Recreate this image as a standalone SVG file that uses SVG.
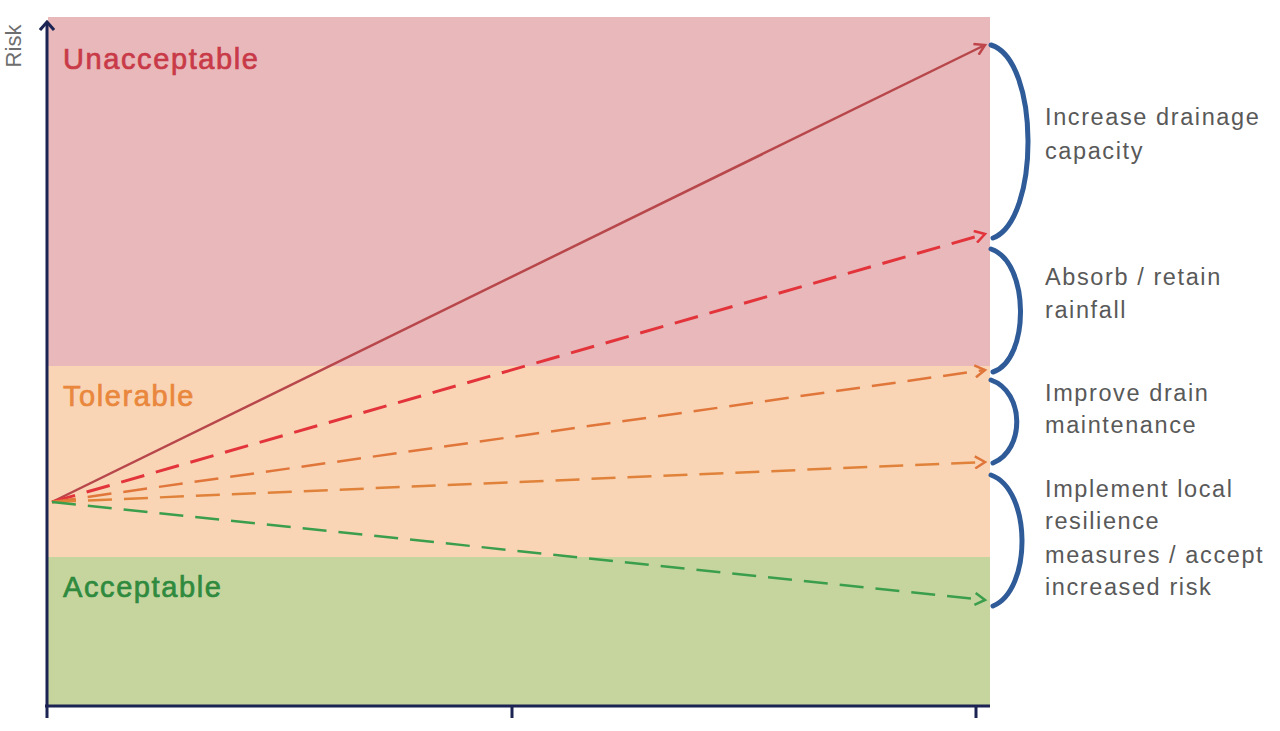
<svg xmlns="http://www.w3.org/2000/svg" width="1280" height="731" viewBox="0 0 1280 731">
<defs>
<style>
.zone{font-family:"Liberation Sans",Arial,sans-serif;font-size:29px;letter-spacing:1.6px;stroke-width:0.7}
.note{font-family:"Liberation Sans",Arial,sans-serif;font-size:23.5px;letter-spacing:1.6px;fill:#595959}
.brace{fill:none;stroke:#2f5b98;stroke-width:5;stroke-linecap:round}
.axis{stroke:#1c2453;stroke-width:3;fill:none}
</style>
<marker id="ahRed" markerWidth="14" markerHeight="14" refX="11" refY="7" orient="auto" markerUnits="userSpaceOnUse"><path d="M1,1 L11,7 L1,13" fill="none" stroke="#e2343a" stroke-width="2.5"/></marker>
<marker id="ahDark" markerWidth="14" markerHeight="14" refX="11" refY="7" orient="auto" markerUnits="userSpaceOnUse"><path d="M1,1 L11,7 L1,13" fill="none" stroke="#c0454a" stroke-width="2.5"/></marker>
<marker id="ahOr" markerWidth="14" markerHeight="14" refX="11" refY="7" orient="auto" markerUnits="userSpaceOnUse"><path d="M1,1 L11,7 L1,13" fill="none" stroke="#e0763a" stroke-width="2.5"/></marker>
<marker id="ahGr" markerWidth="14" markerHeight="14" refX="11" refY="7" orient="auto" markerUnits="userSpaceOnUse"><path d="M1,1 L11,7 L1,13" fill="none" stroke="#3a9e4c" stroke-width="2.5"/></marker>
<marker id="ahAxis" markerWidth="16" markerHeight="16" refX="8" refY="2" orient="0" markerUnits="userSpaceOnUse"><path d="M1,10 L8,2 L15,10" fill="none" stroke="#1c2453" stroke-width="3"/></marker>
</defs>
<rect width="1280" height="731" fill="#ffffff"/>
<g id="zones">
<rect x="48" y="17" width="942" height="349" fill="#e8b8ba"/>
<rect x="48" y="366" width="942" height="191" fill="#f9d5b6"/>
<rect x="48" y="557" width="942" height="148" fill="#c6d59e"/>
<text class="zone" x="63" y="69" fill="#c93a48" stroke="#c93a48">Unacceptable</text>
<text class="zone" x="63" y="406" fill="#e9873c" stroke="#e9873c">Tolerable</text>
<text class="zone" x="63" y="597" fill="#2f8a3e" stroke="#2f8a3e">Acceptable</text>
</g>
<g id="axes">
<path class="axis" d="M47,22 L47,718" marker-start="url(#ahAxis)"/>
<path class="axis" d="M45,706 L990,706"/>
<path class="axis" d="M512,706 L512,718 M976,706 L976,718"/>
<text x="0" y="0" transform="translate(21,46) rotate(-90)" text-anchor="middle" font-family="Liberation Sans, Arial, sans-serif" font-size="22" fill="#6e6e6e">Risk</text>
</g>
<g id="connectors">
<line x1="52" y1="502" x2="985" y2="45" stroke="#b8474b" stroke-width="2.5" marker-end="url(#ahDark)"/>
<line x1="52" y1="502" x2="985" y2="234" stroke="#e2343a" stroke-width="3" stroke-dasharray="24,12" marker-end="url(#ahRed)"/>
<line x1="52" y1="502" x2="985" y2="370" stroke="#e0763a" stroke-width="2.5" stroke-dasharray="24,12" marker-end="url(#ahOr)"/>
<line x1="52" y1="502" x2="985" y2="462" stroke="#e0823a" stroke-width="2.5" stroke-dasharray="24,12" marker-end="url(#ahOr)"/>
<line x1="52" y1="502" x2="985" y2="600" stroke="#3a9e4c" stroke-width="2.5" stroke-dasharray="24,12" marker-end="url(#ahGr)"/>
</g>
<g id="braces">
<path class="brace" d="M991,45 C1040,60 1040,220 993,238"/>
<path class="brace" d="M991,249 C1030,262 1030,360 993,372"/>
<path class="brace" d="M991,380 C1025,392 1025,450 993,463"/>
<path class="brace" d="M991,475 C1032,490 1032,590 993,606"/>
</g>
<g id="notes">
<text class="note" x="1045" y="125">Increase drainage</text>
<text class="note" x="1045" y="159">capacity</text>
<text class="note" x="1045" y="285">Absorb / retain</text>
<text class="note" x="1045" y="318">rainfall</text>
<text class="note" x="1045" y="401">Improve drain</text>
<text class="note" x="1045" y="433">maintenance</text>
<text class="note" x="1045" y="497">Implement local</text>
<text class="note" x="1045" y="529">resilience</text>
<text class="note" x="1045" y="563">measures / accept</text>
<text class="note" x="1045" y="595">increased risk</text>
</g>
</svg>
